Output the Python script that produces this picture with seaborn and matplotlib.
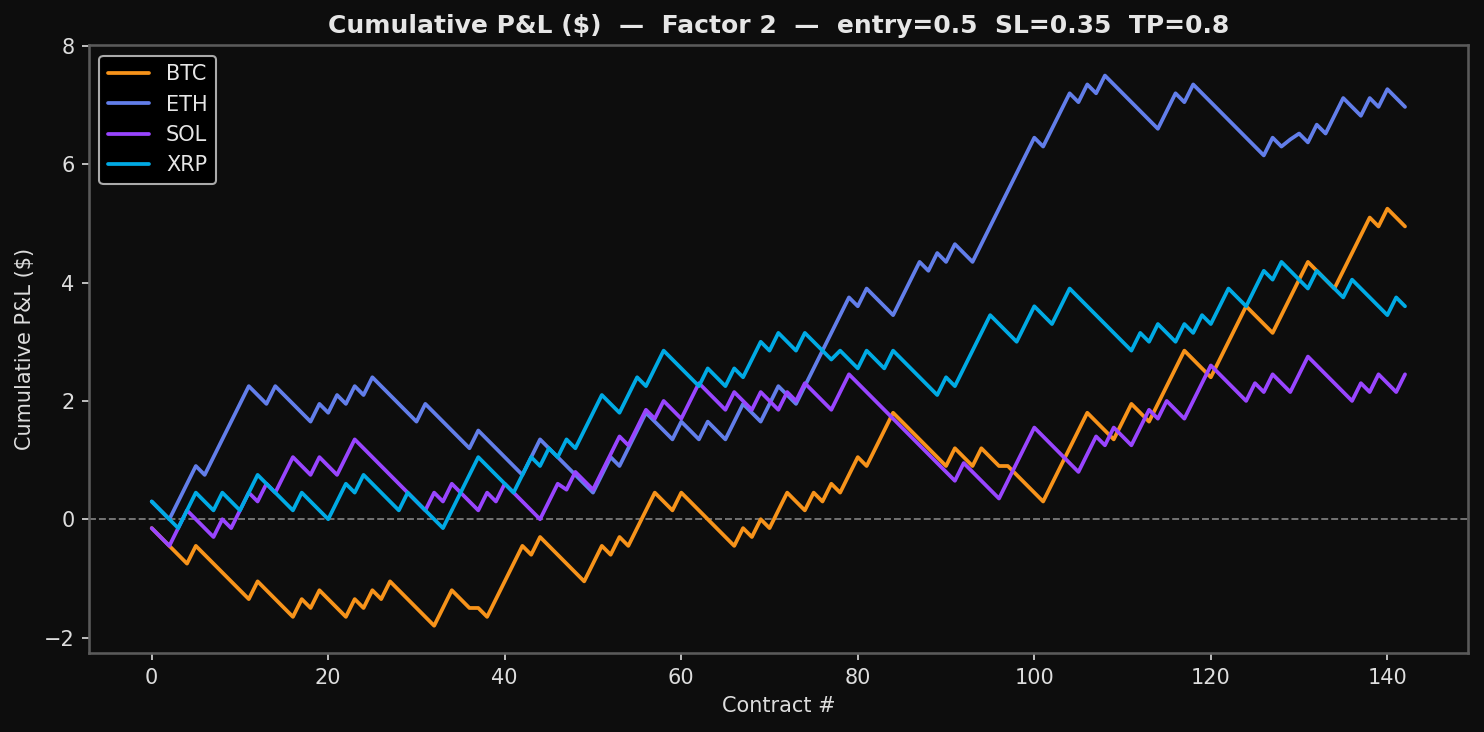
import matplotlib
matplotlib.use("Agg")
import pandas as pd
import seaborn as sns
import matplotlib.pyplot as plt

# cumulative P&L per contract
btc = [-0.15, -0.30, -0.45, -0.60, -0.75, -0.45, -0.60, -0.75, -0.90, -1.05,
       -1.20, -1.35, -1.05, -1.20, -1.35, -1.50, -1.65, -1.35, -1.50, -1.20,
       -1.35, -1.50, -1.65, -1.35, -1.50, -1.20, -1.35, -1.05, -1.20, -1.35,
       -1.50, -1.65, -1.80, -1.50, -1.20, -1.35, -1.50, -1.50, -1.65, -1.35,
       -1.05, -0.75, -0.45, -0.60, -0.30, -0.45, -0.60, -0.75, -0.90, -1.05,
       -0.75, -0.45, -0.60, -0.30, -0.45, -0.15, 0.15, 0.45, 0.30, 0.15,
       0.45, 0.30, 0.15, 0.00, -0.15, -0.30, -0.45, -0.15, -0.30, 0.00,
       -0.15, 0.15, 0.45, 0.30, 0.15, 0.45, 0.30, 0.60, 0.45, 0.75,
       1.05, 0.90, 1.20, 1.50, 1.80, 1.65, 1.50, 1.35, 1.20, 1.05,
       0.90, 1.20, 1.05, 0.90, 1.20, 1.05, 0.90, 0.90, 0.75, 0.60,
       0.45, 0.30, 0.60, 0.90, 1.20, 1.50, 1.80, 1.65, 1.50, 1.35,
       1.65, 1.95, 1.80, 1.65, 1.95, 2.25, 2.55, 2.85, 2.70, 2.55,
       2.40, 2.70, 3.00, 3.30, 3.60, 3.45, 3.30, 3.15, 3.45, 3.75,
       4.05, 4.35, 4.20, 4.05, 3.90, 4.20, 4.50, 4.80, 5.10, 4.95,
       5.25, 5.10, 4.95]

eth = [0.30, 0.15, 0.00, 0.30, 0.60, 0.90, 0.75, 1.05, 1.35, 1.65,
       1.95, 2.25, 2.10, 1.95, 2.25, 2.10, 1.95, 1.80, 1.65, 1.95,
       1.80, 2.10, 1.95, 2.25, 2.10, 2.40, 2.25, 2.10, 1.95, 1.80,
       1.65, 1.95, 1.80, 1.65, 1.50, 1.35, 1.20, 1.50, 1.35, 1.20,
       1.05, 0.90, 0.75, 1.05, 1.35, 1.20, 1.05, 0.90, 0.75, 0.60,
       0.45, 0.75, 1.05, 0.90, 1.20, 1.50, 1.80, 1.65, 1.50, 1.35,
       1.65, 1.50, 1.35, 1.65, 1.50, 1.35, 1.65, 1.95, 1.80, 1.65,
       1.95, 2.25, 2.10, 1.95, 2.25, 2.55, 2.85, 3.15, 3.45, 3.75,
       3.60, 3.90, 3.75, 3.60, 3.45, 3.75, 4.05, 4.35, 4.20, 4.50,
       4.35, 4.65, 4.50, 4.35, 4.65, 4.95, 5.25, 5.55, 5.85, 6.15,
       6.45, 6.30, 6.60, 6.90, 7.20, 7.05, 7.35, 7.20, 7.50, 7.35,
       7.20, 7.05, 6.90, 6.75, 6.60, 6.90, 7.20, 7.05, 7.35, 7.20,
       7.05, 6.90, 6.75, 6.60, 6.45, 6.30, 6.15, 6.45, 6.30, 6.42,
       6.52, 6.37, 6.67, 6.52, 6.82, 7.12, 6.97, 6.82, 7.12, 6.97,
       7.27, 7.12, 6.97]

sol = [-0.15, -0.30, -0.45, -0.15, 0.15, 0.00, -0.15, -0.30, 0.00, -0.15,
       0.15, 0.45, 0.30, 0.60, 0.45, 0.75, 1.05, 0.90, 0.75, 1.05,
       0.90, 0.75, 1.05, 1.35, 1.20, 1.05, 0.90, 0.75, 0.60, 0.45,
       0.30, 0.15, 0.45, 0.30, 0.60, 0.45, 0.30, 0.15, 0.45, 0.30,
       0.60, 0.45, 0.30, 0.15, 0.00, 0.30, 0.60, 0.50, 0.80, 0.65,
       0.50, 0.80, 1.10, 1.40, 1.25, 1.55, 1.85, 1.70, 2.00, 1.85,
       1.70, 2.00, 2.30, 2.15, 2.00, 1.85, 2.15, 2.00, 1.85, 2.15,
       2.00, 1.85, 2.15, 2.00, 2.30, 2.15, 2.00, 1.85, 2.15, 2.45,
       2.30, 2.15, 2.00, 1.85, 1.70, 1.55, 1.40, 1.25, 1.10, 0.95,
       0.80, 0.65, 0.95, 0.80, 0.65, 0.50, 0.35, 0.65, 0.95, 1.25,
       1.55, 1.40, 1.25, 1.10, 0.95, 0.80, 1.10, 1.40, 1.25, 1.55,
       1.40, 1.25, 1.55, 1.85, 1.70, 2.00, 1.85, 1.70, 2.00, 2.30,
       2.60, 2.45, 2.30, 2.15, 2.00, 2.30, 2.15, 2.45, 2.30, 2.15,
       2.45, 2.75, 2.60, 2.45, 2.30, 2.15, 2.00, 2.30, 2.15, 2.45,
       2.30, 2.15, 2.45]

xrp = [0.30, 0.15, 0.00, -0.15, 0.15, 0.45, 0.30, 0.15, 0.45, 0.30,
       0.15, 0.45, 0.75, 0.60, 0.45, 0.30, 0.15, 0.45, 0.30, 0.15,
       0.00, 0.30, 0.60, 0.45, 0.75, 0.60, 0.45, 0.30, 0.15, 0.45,
       0.30, 0.15, 0.00, -0.15, 0.15, 0.45, 0.75, 1.05, 0.90, 0.75,
       0.60, 0.45, 0.75, 1.05, 0.90, 1.20, 1.05, 1.35, 1.20, 1.50,
       1.80, 2.10, 1.95, 1.80, 2.10, 2.40, 2.25, 2.55, 2.85, 2.70,
       2.55, 2.40, 2.25, 2.55, 2.40, 2.25, 2.55, 2.40, 2.70, 3.00,
       2.85, 3.15, 3.00, 2.85, 3.15, 3.00, 2.85, 2.70, 2.85, 2.70,
       2.55, 2.85, 2.70, 2.55, 2.85, 2.70, 2.55, 2.40, 2.25, 2.10,
       2.40, 2.25, 2.55, 2.85, 3.15, 3.45, 3.30, 3.15, 3.00, 3.30,
       3.60, 3.45, 3.30, 3.60, 3.90, 3.75, 3.60, 3.45, 3.30, 3.15,
       3.00, 2.85, 3.15, 3.00, 3.30, 3.15, 3.00, 3.30, 3.15, 3.45,
       3.30, 3.60, 3.90, 3.75, 3.60, 3.90, 4.20, 4.05, 4.35, 4.20,
       4.05, 3.90, 4.20, 4.05, 3.90, 3.75, 4.05, 3.90, 3.75, 3.60,
       3.45, 3.75, 3.60]

coins = ["BTC", "ETH", "SOL", "XRP"]
series = [btc, eth, sol, xrp]
colors = {"BTC": "#F7931A", "ETH": "#627EEA", "SOL": "#9945FF", "XRP": "#00AAE4"}

frames = []
for coin, vals in zip(coins, series):
    frames.append(pd.DataFrame({"contract": range(len(vals)), "pnl": vals, "coin": coin}))
df = pd.concat(frames, ignore_index=True)

bg = "#0d0d0d"
sns.set_theme(style="dark", rc={
    "figure.facecolor": bg,
    "axes.facecolor": bg,
    "axes.edgecolor": "#5a5a5a",
    "axes.labelcolor": "#dddddd",
    "text.color": "#e6e6e6",
    "xtick.color": "#dddddd",
    "ytick.color": "#dddddd",
    "xtick.bottom": True,
    "ytick.left": True,
    "axes.grid": False,
})
plt.rcParams["font.family"] = ["DejaVu Sans"]

fig, ax = plt.subplots(figsize=(1484 / 150, 732 / 150), dpi=150)
fig.subplots_adjust(left=0.060, right=0.989, top=0.938, bottom=0.108)

sns.lineplot(data=df, x="contract", y="pnl", hue="coin", palette=colors,
             linewidth=1.8, ax=ax)
ax.axhline(0, color="#777777", linestyle="--", linewidth=0.9, zorder=0)
ax.set_ylim(-2.26, 8.01)

ax.set_title("Cumulative P&L ($)  —  Factor 2  —  entry=0.5  SL=0.35  TP=0.8",
             fontsize=12, fontweight="bold", color="#e6e6e6")
ax.set_xlabel("Contract #", fontsize=10)
ax.set_ylabel("Cumulative P&L ($)", fontsize=10)
ax.tick_params(axis="both", labelsize=10, length=3.5, width=0.8)

handles, labels = ax.get_legend_handles_labels()
leg = ax.legend(handles, labels, loc="upper left", fontsize=10,
                facecolor="black", edgecolor="#aaaaaa", framealpha=1.0)
for t in leg.get_texts():
    t.set_color("#e6e6e6")

fig.savefig("out.png", dpi=150, facecolor=bg)
